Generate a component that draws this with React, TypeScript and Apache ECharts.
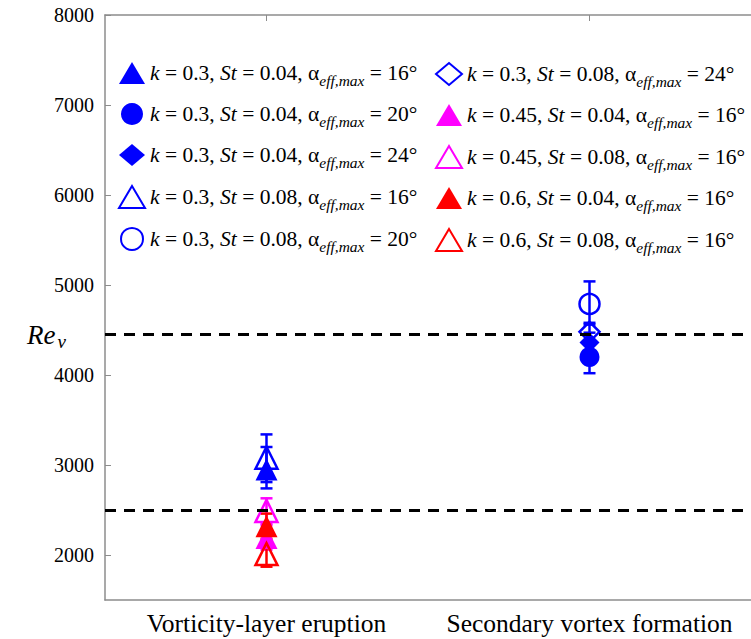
import React, { useEffect, useRef } from "react";
import * as echarts from "echarts";

const categories = ["Vorticity-layer eruption", "Secondary vortex formation"];
const kValues = ["0.3", "0.3", "0.3", "0.3", "0.3", "0.3", "0.45", "0.45", "0.6", "0.6"];
const stValues = ["0.04", "0.04", "0.04", "0.08", "0.08", "0.08", "0.04", "0.08", "0.04", "0.08"];
const alphaValues = ["16", "20", "24", "16", "20", "24", "16", "16", "16", "16"];
const symbols = ["triangle", "circle", "diamond", "triangle", "circle", "diamond", "triangle", "triangle", "triangle", "triangle"];
const hollow = [false, false, false, true, true, true, false, true, false, true];
const colors = ["#0000ff", "#0000ff", "#0000ff", "#0000ff", "#0000ff", "#0000ff", "#ff00ff", "#ff00ff", "#ff0000", "#ff0000"];
const categoryIndex = [0, 1, 1, 0, 1, 1, 0, 0, 0, 0];
const reValues = [2950, 4200, 4360, 3080, 4790, 4480, 2190, 2490, 2320, 2010];
const errLow = [2740, 4020, 4250, 2810, 4560, 4380, 2060, 2350, 2180, 1870];
const errHigh = [3200, 4360, 4470, 3340, 5040, 4580, 2330, 2630, 2460, 2150];
const thresholds = [4450, 2500];
const yTicks = [2000, 3000, 4000, 5000, 6000, 7000, 8000];

const FONT = "Liberation Serif";
const AXIS_GREY = "#8c8c8c";

const names = kValues.map(
  (k, i) => `k = ${k}, St = ${stValues[i]}, αeff,max = ${alphaValues[i]}°`
);

export default function App() {
  const ref = useRef<HTMLDivElement>(null);
  useEffect(() => {
    if (!ref.current) return;
    const chart = echarts.init(ref.current, null, { renderer: "svg" });

    const scatterSeries = names.map((name, i) => ({
      type: "scatter",
      name,
      symbol: symbols[i],
      symbolSize: symbols[i] === "triangle" ? 22 : 20,
      z: 3,
      itemStyle: hollow[i]
        ? { color: "rgba(255,255,255,0)", borderColor: colors[i], borderWidth: 2.5, opacity: 1 }
        : { color: colors[i], opacity: 1 },
      data: [[categoryIndex[i], reValues[i]]],
    }));

    const errData = names.map((_, i) => [categoryIndex[i], errLow[i], errHigh[i], i]);

    const legendFormatter = (name: string) => {
      const i = names.indexOf(name);
      return `{it|k} = ${kValues[i]}, {it|St} = ${stValues[i]}, α{sub|eff,max} = ${alphaValues[i]}°`;
    };
    const legendRich = {
      it: { fontStyle: "italic", fontFamily: FONT, fontSize: 21.5, color: "#000" },
      sub: { fontStyle: "italic", fontFamily: FONT, fontSize: 15.5, color: "#000", padding: [14, 0, 0, 0] },
    };
    const legendBase = {
      orient: "vertical",
      itemWidth: 26,
      itemHeight: 22,
      itemGap: 15,
      formatter: legendFormatter,
      textStyle: { fontFamily: FONT, fontSize: 21.5, color: "#000", rich: legendRich },
      itemStyle: { opacity: 1 },
      selectedMode: false,
    };

    chart.setOption({
      animation: false,
      backgroundColor: "#fff",
      textStyle: { fontFamily: FONT },
      grid: { left: 105, right: -13, top: 15, bottom: 39 },
      legend: [
        { ...legendBase, left: 113, top: 57, data: names.slice(0, 5) },
        { ...legendBase, left: 430, top: 57, data: names.slice(5) },
      ],
      graphic: [
        {
          type: "text",
          left: 27,
          top: 321,
          style: {
            text: "{re|Re}{v|v}",
            rich: {
              re: { fontFamily: FONT, fontStyle: "italic", fontSize: 27, color: "#000" },
              v: { fontFamily: FONT, fontStyle: "italic", fontSize: 19, color: "#000", padding: [14, 0, 0, 2] },
            },
          },
        },
      ],
      xAxis: [
        {
          type: "category",
          data: categories,
          boundaryGap: true,
          axisLine: { lineStyle: { color: AXIS_GREY, width: 1.5 } },
          axisTick: { alignWithLabel: true, inside: true, length: 6, lineStyle: { color: AXIS_GREY } },
          axisLabel: { interval: 0, fontFamily: FONT, fontSize: 25.5, color: "#000", margin: 10 },
          splitLine: { show: false },
        },
        {
          type: "category",
          position: "top",
          data: categories,
          boundaryGap: true,
          axisLine: { show: true, lineStyle: { color: AXIS_GREY, width: 1.5 } },
          axisTick: { show: true, alignWithLabel: true, inside: true, length: 6, lineStyle: { color: AXIS_GREY } },
          axisLabel: { show: false },
          splitLine: { show: false },
        },
      ],
      yAxis: {
        type: "value",
        min: 1500,
        max: 8000,
        axisLine: { show: true, lineStyle: { color: AXIS_GREY, width: 1.5 } },
        axisTick: { show: true, inside: true, length: 6, customValues: yTicks, lineStyle: { color: AXIS_GREY } },
        axisLabel: {
          fontFamily: FONT,
          fontSize: 20,
          color: "#000",
          margin: 11,
          customValues: yTicks,
          formatter: (v: number) => String(v),
        },
        splitLine: { show: false },
      },
      series: [
        {
          type: "custom",
          name: "errorbars",
          z: 2,
          silent: true,
          data: errData,
          renderItem: (params: any, api: any) => {
            const x = api.value(0);
            const lo = api.coord([x, api.value(1)]);
            const hi = api.coord([x, api.value(2)]);
            const c = colors[api.value(3)];
            const hw = 6;
            const st = { stroke: c, lineWidth: 2.5 };
            return {
              type: "group",
              children: [
                { type: "line", shape: { x1: lo[0], y1: lo[1], x2: hi[0], y2: hi[1] }, style: st },
                { type: "line", shape: { x1: lo[0] - hw, y1: lo[1], x2: lo[0] + hw, y2: lo[1] }, style: st },
                { type: "line", shape: { x1: hi[0] - hw, y1: hi[1], x2: hi[0] + hw, y2: hi[1] }, style: st },
              ],
            };
          },
        },
        {
          type: "line",
          name: "thresholds",
          data: [],
          silent: true,
          markLine: {
            silent: true,
            symbol: "none",
            label: { show: false },
            lineStyle: { color: "#000", type: [11, 8], width: 3 },
            data: thresholds.map((v) => ({ yAxis: v })),
          },
        },
        ...scatterSeries,
      ],
    });
    return () => chart.dispose();
  }, []);
  return (
    <div
      ref={ref}
      style={{ position: "fixed", left: 0, top: 0, width: 751, height: 639 }}
    />
  );
}
